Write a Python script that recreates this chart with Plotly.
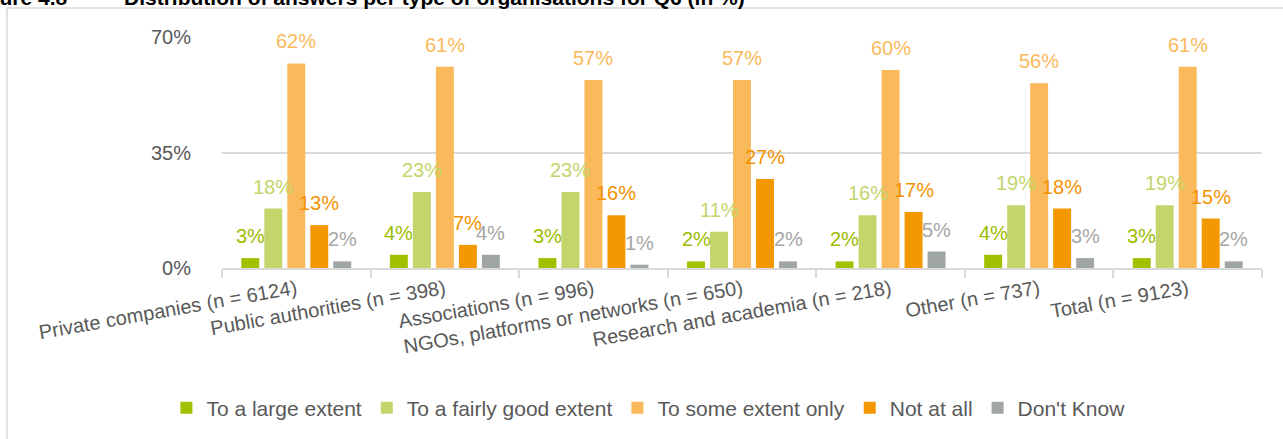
import plotly.graph_objects as go

categories = [
    "Private companies (n = 6124)",
    "Public authorities (n = 398)",
    "Associations (n = 996)",
    "NGOs, platforms or networks (n = 650)",
    "Research and academia (n = 218)",
    "Other (n = 737)",
    "Total (n = 9123)",
]
series_names = ["To a large extent", "To a fairly good extent", "To some extent only", "Not at all", "Don't Know"]
large_extent = [3, 4, 3, 2, 2, 4, 3]
fairly_good = [18, 23, 23, 11, 16, 19, 19]
some_extent = [62, 61, 57, 57, 60, 56, 61]
not_at_all = [13, 7, 16, 27, 17, 18, 15]
dont_know = [2, 4, 1, 2, 5, 3, 2]
y_ticks = [0, 35, 70]
y_tick_labels = ["0%", "35%", "70%"]

series_values = [large_extent, fairly_good, some_extent, not_at_all, dont_know]
bar_colors = ["#A0C000", "#C3D56B", "#FAB95B", "#F39800", "#A0A5A5"]
label_colors = ["#9CBC00", "#C3D56B", "#FAB95B", "#F39200", "#A6A6A6"]

FONT = "Liberation Sans, Arial, sans-serif"
W, H = 1283, 439
ML, MR, MT, MB = 222, 21, 37, 170
BARGAP = 0.226
GROUPGAP = 0.22

fig = go.Figure()
for name, vals, col in zip(series_names, series_values, bar_colors):
    fig.add_trace(go.Bar(name=name, x=categories, y=vals, marker=dict(color=col, line=dict(width=0))))

# data labels above each bar
n = len(series_values)
slot = (1 - BARGAP) / n
for i, (vals, lc) in enumerate(zip(series_values, label_colors)):
    off = -(1 - BARGAP) / 2 + (i + 0.5) * slot
    for j, v in enumerate(vals):
        fig.add_annotation(x=j + off, y=v, xref="x", yref="y", text=f"{v}%",
                           showarrow=False, yanchor="bottom", yshift=9,
                           font=dict(family=FONT, size=20, color=lc))

# title (partially cut at top of the picture)
plot_w = W - ML - MR
plot_h = H - MT - MB
fig.add_annotation(xref="paper", yref="paper", x=(70 - ML) / plot_w, y=1 + 26 / plot_h,
                   xanchor="right", yanchor="bottom", showarrow=False,
                   text="<b>Figure 4.8</b>", font=dict(family=FONT, size=21, color="#000000"))
fig.add_annotation(xref="paper", yref="paper", x=(122 - ML) / plot_w, y=1 + 26 / plot_h,
                   xanchor="left", yanchor="bottom", showarrow=False,
                   text="<b>Distribution of answers per type of organisations for Q6 (in %)</b>",
                   font=dict(family=FONT, size=21, color="#000000"))

# chart-area frame
fig.add_shape(type="rect", xref="paper", yref="paper", xsizemode="pixel", ysizemode="pixel",
              xanchor=0, yanchor=0, x0=7 - ML, x1=W - ML + 10, y0=-(MB + 10), y1=H - MB - 9,
              line=dict(color="#D9D9D9", width=1.5), layer="below")

fig.update_layout(
    width=W, height=H,
    margin=dict(l=ML, r=MR, t=MT, b=MB, pad=0),
    paper_bgcolor="white", plot_bgcolor="white",
    barmode="group", bargap=BARGAP, bargroupgap=GROUPGAP,
    font=dict(family=FONT, size=20, color="#595959"),
    showlegend=True,
    legend=dict(orientation="h", x=0.41, xanchor="center", y=-0.6, yanchor="middle",
                font=dict(family=FONT, size=21, color="#595959"), itemwidth=30,
                traceorder="normal"),
    xaxis=dict(type="category", tickangle=-10, showline=True, linecolor="#D9D9D9", linewidth=2,
               ticks="outside", tickson="boundaries", ticklen=8, tickwidth=2, tickcolor="#D9D9D9",
               showgrid=False, tickfont=dict(family=FONT, size=20, color="#595959")),
    yaxis=dict(range=[0, 70], tickvals=y_ticks, ticktext=y_tick_labels, showgrid=True,
               gridcolor="#D9D9D9", gridwidth=2, zeroline=False, showline=False, ticks="",
               ticklabelstandoff=30, tickfont=dict(family=FONT, size=20, color="#595959")),
)

fig.write_html("out.html", config={"displayModeBar": False},
               post_script="document.body.style.margin='0';document.body.style.overflow='hidden';")
